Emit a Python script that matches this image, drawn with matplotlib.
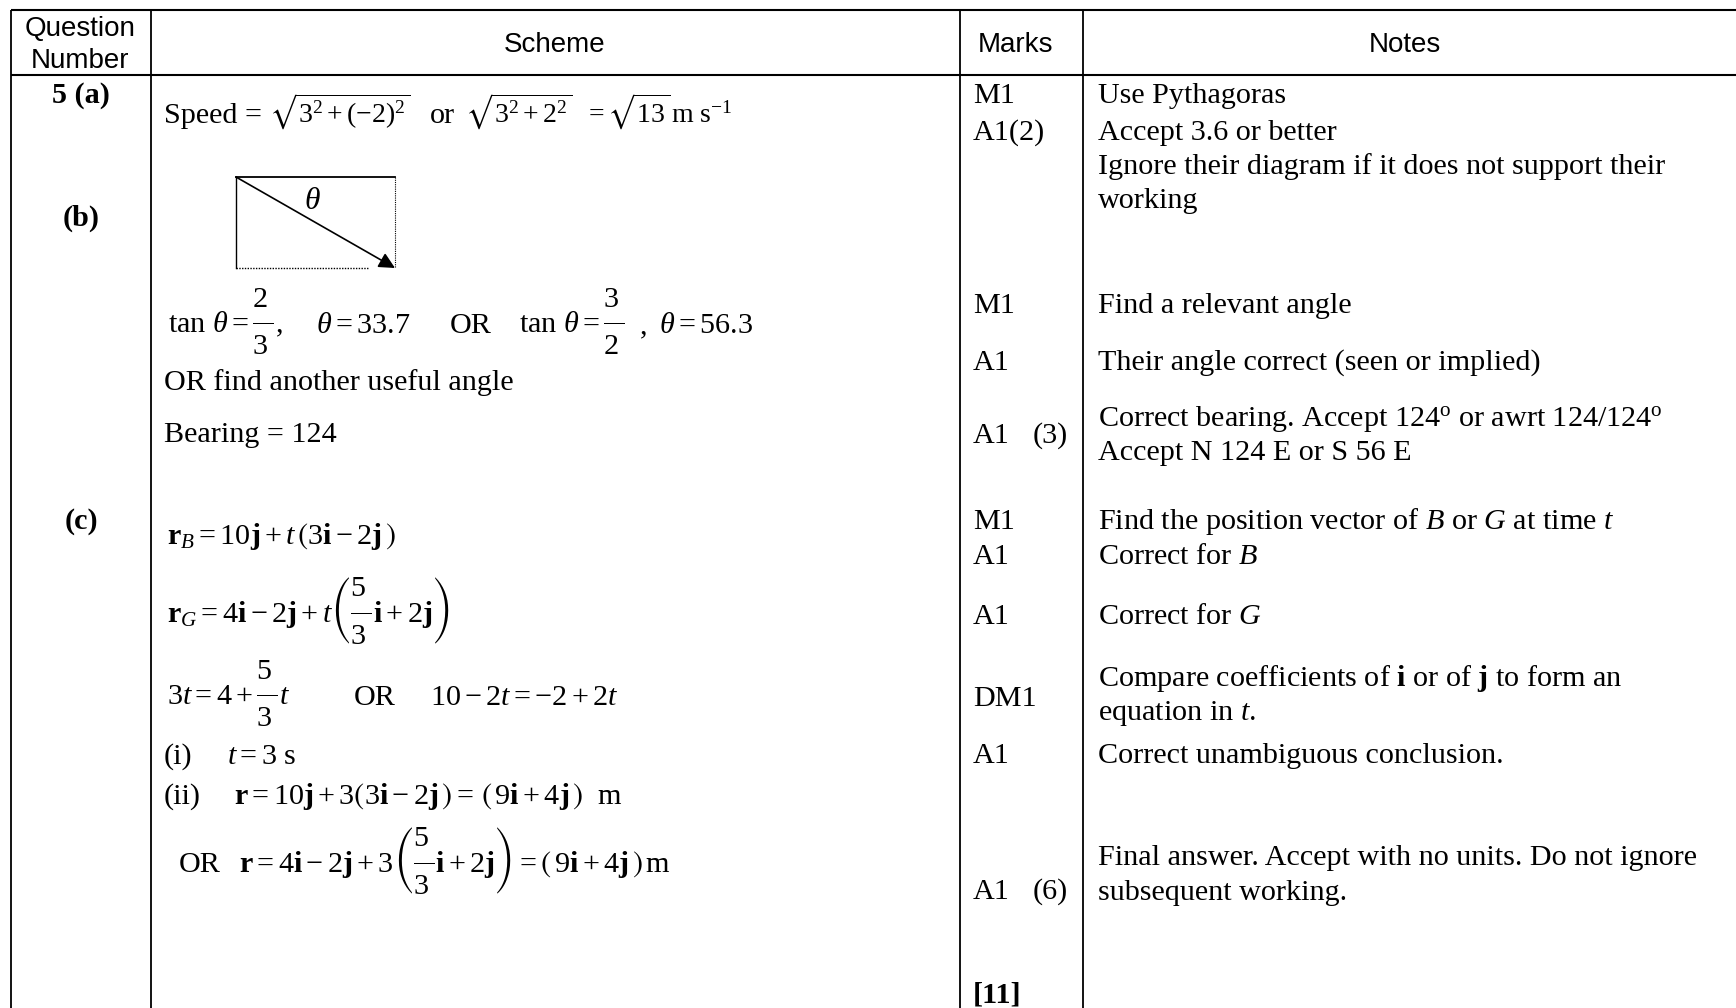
import matplotlib
matplotlib.use('Agg')
import matplotlib.pyplot as plt

plt.rcParams['font.family'] = ['Liberation Serif', 'DejaVu Serif']
plt.rcParams['mathtext.fontset'] = 'custom'
plt.rcParams['mathtext.rm'] = 'Liberation Serif'
plt.rcParams['mathtext.it'] = 'Liberation Serif:italic'
plt.rcParams['mathtext.bf'] = 'Liberation Serif:bold'
plt.rcParams['mathtext.fallback'] = 'stix'


#fraction with full size digits and room around the bar
def frac(a, b):
    return (r'\genfrac{}{}{0.7}{0}{\genfrac{}{}{0}{0}{%s}{\ }}{\genfrac{}{}{0}{0}{\ }{%s}}' % (a, b))


#header row
header_labels = ['Question', 'Number', 'Scheme', 'Marks', 'Notes']
header_x = [80, 80, 555, 1015, 1405]
header_y = [36, 68, 52, 52, 52]

#question number column
question_labels = [r'5 (a)', '(b)', '(c)']
question_y = [103, 226, 529]

#marks column
marks_labels = ['M1', 'A1(2)', 'M1', 'A1', 'A1', 'M1', 'A1', 'A1', 'DM1', 'A1', 'A1', '[11]']
marks_y = [103, 140, 313, 370, 443, 529, 564, 624, 706, 763, 899, 1003]
marks_totals = ['(3)', '(6)']
marks_totals_y = [443, 899]

#notes column
notes_labels = [
    'Use Pythagoras',
    'Accept 3.6 or better',
    'Ignore their diagram if it does not support their',
    'working',
    'Find a relevant angle',
    'Their angle correct (seen or implied)',
    r'Correct bearing. Accept 124$^{\mathrm{o}}$ or awrt 124/124$^{\mathrm{o}}$',
    'Accept N 124 E or S 56 E',
    r'Find the position vector of $B$ or $G$ at time $t$',
    r'Correct for $B$',
    r'Correct for $G$',
    r'Compare coefficients of $\mathbf{i}$ or of $\mathbf{j}$ to form an',
    r'equation in $t$.',
    'Correct unambiguous conclusion.',
    'Final answer. Accept with no units. Do not ignore',
    'subsequent working.',
]
notes_y = [103, 140, 174, 208, 313, 370, 426, 460, 529, 564, 624, 686, 720, 763, 865, 900]

#scheme column, text and math pieces
scheme_labels = [
    'Speed =',
    r'$\sqrt{3^2+(-2)^2}$',
    'or',
    r'$\sqrt{3^2+2^2}$',
    r'$=\sqrt{13}\,\mathrm{m\ s}^{-1}$',
    r'$\tan\,\theta=' + frac('2', '3') + r',$',
    r'$\theta=33.7$',
    'OR',
    r'$\tan\,\theta=' + frac('3', '2') + r'$',
    ',',
    r'$\theta=56.3$',
    'OR find another useful angle',
    'Bearing = 124',
    r'$\mathbf{r}_B=10\mathbf{j}+t\,\left(3\mathbf{i}-2\mathbf{j}\,\right)$',
    r'$\mathbf{r}_G=4\mathbf{i}-2\mathbf{j}+t\left(' + frac('5', '3') + r'\mathbf{i}+2\mathbf{j}\right)$',
    r'$3t=4+' + frac('5', '3') + r't$',
    'OR',
    r'$10-2t=-2+2t$',
    '(i)',
    r'$t=3\ \mathrm{s}$',
    '(ii)',
    r'$\mathbf{r}=10\mathbf{j}+3\left(3\mathbf{i}-2\mathbf{j}\,\right)=\,\left(\,9\mathbf{i}+4\mathbf{j}\,\right)\ \ \mathrm{m}$',
    'OR',
    r'$\mathbf{r}=4\mathbf{i}-2\mathbf{j}+3\left(' + frac('5', '3') + r'\mathbf{i}+2\mathbf{j}\right)=\left(\,9\mathbf{i}+4\mathbf{j}\,\right)\,\mathrm{m}$',
]
scheme_x = [164, 269, 430, 465, 584, 168, 316, 450, 519, 640, 659, 164, 164,
            167, 167, 167, 354, 430, 164, 227, 164, 234, 179, 239]
scheme_y = [123, 123, 123, 123, 123, 333, 333, 333, 333, 333, 333, 390, 442,
            544, 622, 705, 705, 705, 764, 764, 804, 804, 872, 872]
scheme_sizes = [21.7, 20, 21.7, 20, 20, 21.7, 21.7, 21.7, 21.7, 21.7, 21.7, 21.7, 21.7,
                21.7, 21.7, 21.7, 21.7, 21.7, 21.7, 21.7, 21.7, 21.7, 21.7, 21.7]

#table rules in pixels
col_x = [11, 151, 960, 1083]
head_y = [10, 75]

fig = plt.figure(figsize=(17.36, 10.08), dpi=100)
ax = fig.add_axes([0, 0, 1, 1])
ax.set_xlim(0, 1736)
ax.set_ylim(1008, 0)
ax.axis('off')

for x in col_x:
    ax.plot([x, x], [head_y[0], 1008], color='black', lw=1.3, solid_capstyle='butt')
for y in head_y:
    ax.plot([col_x[0], 1736], [y, y], color='black', lw=1.5, solid_capstyle='butt')

body_size = 21.7

for t, x, y in zip(header_labels, header_x, header_y):
    ax.text(x, y, t, family=['Liberation Sans'], fontsize=20, ha='center', va='baseline')

for t, y in zip(question_labels, question_y):
    ax.text(81, y, t, fontsize=body_size, fontweight='bold', ha='center', va='baseline')

for t, y in zip(marks_labels, marks_y):
    ax.text(973, y, t, fontsize=body_size, fontweight='bold' if t == '[11]' else 'normal', va='baseline')
for t, y in zip(marks_totals, marks_totals_y):
    ax.text(1033, y, t, fontsize=body_size, va='baseline')

for t, y in zip(notes_labels, notes_y):
    ax.text(1098, y, t, fontsize=body_size, va='baseline')

for t, x, y, s in zip(scheme_labels, scheme_x, scheme_y, scheme_sizes):
    ax.text(x, y, t, fontsize=s, va='baseline')

#bearing diagram
ax.plot([236, 395], [177, 177], color='black', lw=1.3)
ax.plot([236, 236], [177, 268], color='black', lw=1.0)
ax.plot([236, 369], [268, 268], color='black', lw=1.0, ls=(0, (1, 1)))
ax.plot([395, 395], [177, 267], color='black', lw=0.8, ls=(0, (1, 1)))
ax.annotate('', xy=(395, 268), xytext=(236, 177),
            arrowprops=dict(arrowstyle='-|>', color='black', lw=1.2, mutation_scale=24,
                            shrinkA=0, shrinkB=0))
ax.text(312, 209, r'$\theta$', fontsize=body_size + 1, ha='center', va='baseline')

plt.savefig('out.png', dpi=100)
